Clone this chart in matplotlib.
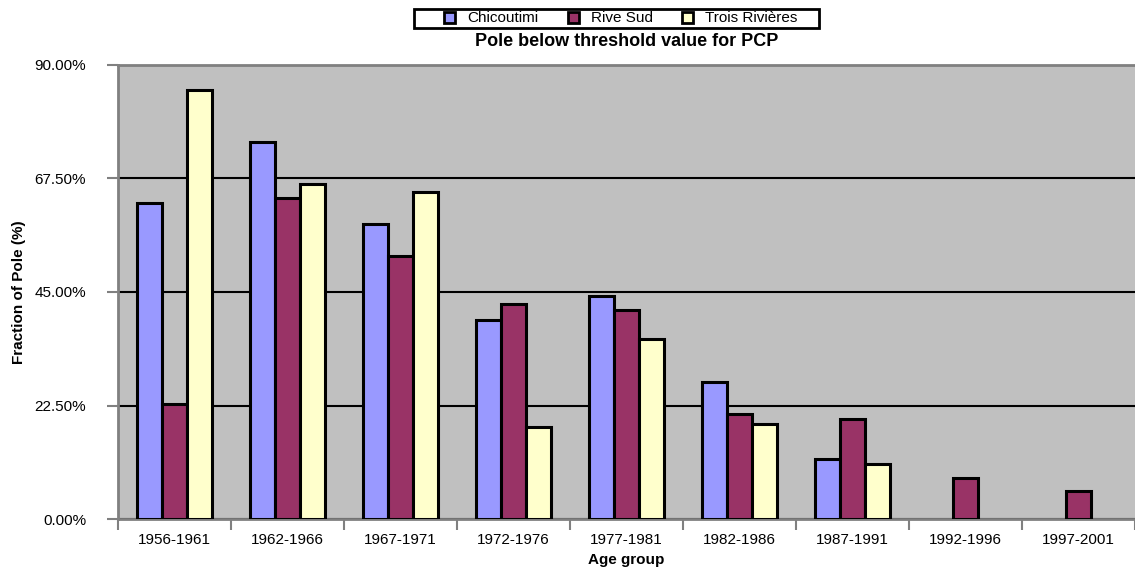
import matplotlib
matplotlib.use('Agg')
import matplotlib.pyplot as plt
from matplotlib.ticker import FixedLocator, FuncFormatter
from matplotlib.patches import Rectangle
import numpy as np

plt.rcParams['font.family'] = ['Liberation Sans', 'DejaVu Sans']

# fraction of poles below threshold, per age group (%)
age_groups = ['1956-1961', '1962-1966', '1967-1971', '1972-1976', '1977-1981',
              '1982-1986', '1987-1991', '1992-1996', '1997-2001']
chicoutimi = [62.5, 74.7, 58.4, 39.4, 44.1, 27.2, 11.9, 0, 0]
rive_sud = [22.9, 63.6, 52.1, 42.6, 41.4, 20.8, 19.8, 8.1, 5.6]
trois_rivieres = [84.9, 66.4, 64.7, 18.2, 35.7, 18.8, 11.0, 0, 0]

series = [('Chicoutimi', chicoutimi, '#9999FF'),
          ('Rive Sud', rive_sud, '#993366'),
          ('Trois Rivières', trois_rivieres, '#FFFFCC')]

W, H = 1135, 569
fig = plt.figure(figsize=(W / 100, H / 100), dpi=100)
ax = fig.add_axes([0.104, 0.0874, 0.896, 0.7992])
ax.set_facecolor('#C0C0C0')

x = np.arange(len(age_groups))
w = 0.222
for k, (name, vals, col) in enumerate(series):
    vals = np.array(vals)
    keep = vals > 0
    ax.bar(x[keep] + (k - 1) * w, vals[keep], width=w, color=col,
           edgecolor='black', linewidth=2.2, label=name, zorder=3)

ax.set_xlim(-0.5, len(age_groups) - 0.5)
ax.set_ylim(0, 90)
ax.set_yticks([0, 22.5, 45, 67.5, 90])
ax.yaxis.set_major_formatter(FuncFormatter(lambda v, p: '%.2f%%' % v))
ax.yaxis.grid(True, color='black', linewidth=1.5, zorder=1)
ax.set_axisbelow(True)

# ticks between groups, labels under group centres
ax.xaxis.set_major_locator(FixedLocator(np.arange(len(age_groups) + 1) - 0.5))
ax.xaxis.set_minor_locator(FixedLocator(x))
ax.set_xticklabels([], minor=False)
ax.set_xticklabels(age_groups, minor=True)
ax.tick_params(axis='x', which='major', length=8, width=1.5, color='#808080')
ax.tick_params(axis='x', which='minor', length=0, labelsize=11, pad=10)
ax.tick_params(axis='y', length=8, width=1.5, color='#808080', labelsize=11, pad=15)

for s in ['left', 'bottom', 'top']:
    ax.spines[s].set_color('#808080')
    ax.spines[s].set_linewidth(2)
ax.spines['right'].set_visible(False)

ax.set_xlabel('Age group', fontsize=11, fontweight='bold', labelpad=4)
ax.set_ylabel('Fraction of Pole (%)', fontsize=11, fontweight='bold', labelpad=6)

fig.text(627 / W, 1 - 41 / H, 'Pole below threshold value for PCP', ha='center',
         va='center', fontsize=13, fontweight='bold')

leg = fig.legend(loc='center', bbox_to_anchor=(621 / W, 1 - 18.5 / H), ncol=3,
                 fontsize=11, frameon=False, borderpad=0, handlelength=0.72,
                 handleheight=0.72, columnspacing=1.9, handletextpad=0.8,
                 borderaxespad=0)
for h in leg.legend_handles:
    h.set_linewidth(2)
fig.patches.append(Rectangle((414 / W, 1 - 28 / H), 405 / W, 19 / H,
                             transform=fig.transFigure, fill=False,
                             edgecolor='black', linewidth=2))

fig.savefig('out.png', dpi=100)
